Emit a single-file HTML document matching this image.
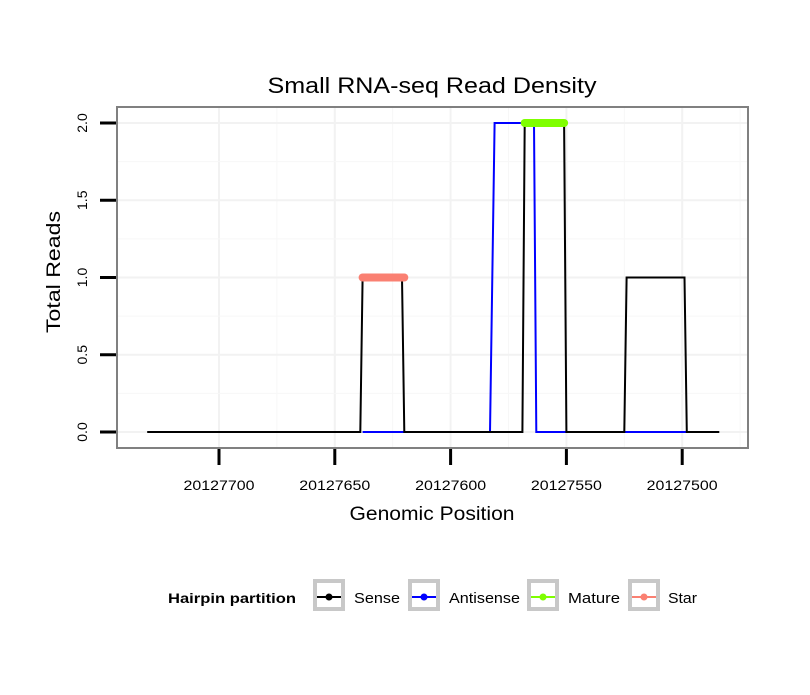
<!DOCTYPE html>
<html><head><meta charset="utf-8"><style>
body{margin:0;background:#fff;font-family:"Liberation Sans",sans-serif}
</style></head><body>
<svg width="810" height="690" xmlns="http://www.w3.org/2000/svg" font-family="Liberation Sans, sans-serif">
<rect width="810" height="690" fill="#fff"/>
<g id="grid"></g>
<g id="series"></g>
<rect x="117" y="107" width="631" height="341" fill="none" stroke="#808080" stroke-width="2"/>
<g id="axes"></g>
<text x="432" y="93" font-size="22" text-anchor="middle" textLength="329" lengthAdjust="spacingAndGlyphs">Small RNA-seq Read Density</text>
<text x="432" y="520" font-size="19" text-anchor="middle" textLength="165" lengthAdjust="spacingAndGlyphs">Genomic Position</text>
<text transform="translate(60,272) rotate(-90)" font-size="19" text-anchor="middle" textLength="122" lengthAdjust="spacingAndGlyphs">Total Reads</text>
<g id="legend">
<text x="168" y="603" font-size="14" font-weight="bold" textLength="128" lengthAdjust="spacingAndGlyphs">Hairpin partition</text>
</g>
</svg>
<script>
const xTicks=[20127700,20127650,20127600,20127550,20127500];
const yTicks=[0,0.5,1,1.5,2];
const senseX=[20127731,20127639,20127638,20127621,20127620,20127569,20127568,20127551,20127550,20127525,20127524,20127499,20127498,20127484];
const senseY=[0,0,1,1,0,0,2,2,0,0,1,1,0,0];
const antiX=[20127638,20127620,20127620,20127583,20127581,20127564,20127563,20127498];
const antiY=[0,0,0,0,2,2,0,0];
const starX=[20127638,20127620];
const starY=[1,1];
const matureX=[20127568,20127551];
const matureY=[2,2];
const legendLabels=["Sense","Antisense","Mature","Star"];
const legendColors=["#000","#0000ff","#7fff00","#fa8072"];

const NS="http://www.w3.org/2000/svg";
function px(v){return 219+(20127700-v)*2.316;}
function py(v){return 432-v*154.5;}
function mk(tag,attrs,parent){const e=document.createElementNS(NS,tag);for(const k in attrs)e.setAttribute(k,attrs[k]);parent.appendChild(e);return e;}
const grid=document.getElementById('grid'),series=document.getElementById('series'),axes=document.getElementById('axes'),legend=document.getElementById('legend');
for(let i=0;i<xTicks.length;i++){
 const g=mk('line',{x1:px(xTicks[i]),x2:px(xTicks[i]),y1:108,y2:447,stroke:'#f2f2f2','stroke-width':2},grid);
 
 
 const m=xTicks[i]-25;const mx=px(m);
 if(mx<747){const g2=mk('line',{x1:mx,x2:mx,y1:108,y2:447,stroke:'#f7f7f7','stroke-width':1},grid);
 
 }
}
for(let i=0;i<yTicks.length;i++){
 const g=mk('line',{x1:118,x2:747,y1:py(yTicks[i]),y2:py(yTicks[i]),stroke:'#f2f2f2','stroke-width':2},grid);
 
 
 if(i<yTicks.length-1){const my=py(yTicks[i]+0.25);
 const g2=mk('line',{x1:118,x2:747,y1:my,y2:my,stroke:'#f7f7f7','stroke-width':1},grid);
 
 }
}
function path(xs,ys){return xs.map((x,i)=>(i?'L':'M')+px(x).toFixed(1)+','+py(ys[i]).toFixed(1)).join(' ');}
const a=mk('path',{d:path(antiX,antiY),fill:'none',stroke:'#0000ff','stroke-width':2},series);


const s=mk('path',{d:path(senseX,senseY),fill:'none',stroke:'#000','stroke-width':2},series);


const st=mk('path',{d:path(starX,starY),fill:'none',stroke:'#fa8072','stroke-width':8,'stroke-linecap':'round'},series);


const mt=mk('path',{d:path(matureX,matureY),fill:'none',stroke:'#7fff00','stroke-width':8,'stroke-linecap':'round'},series);


for(const t of xTicks){
 const l=mk('line',{x1:px(t),x2:px(t),y1:449,y2:465,stroke:'#000','stroke-width':3},axes);
 
 
 const tx=mk('text',{x:px(t),y:490,'font-size':14,'text-anchor':'middle',textLength:71,lengthAdjust:'spacingAndGlyphs'},axes);tx.textContent=t;
 
 
}
for(const t of yTicks){
 const l=mk('line',{x1:100,x2:116,y1:py(t),y2:py(t),stroke:'#000','stroke-width':3},axes);
 
 
 const tx=mk('text',{transform:`translate(87,${py(t)}) rotate(-90)`,'font-size':14,'text-anchor':'middle'},axes);tx.textContent=t.toFixed(1);
 
 
}
const keyX=[313,408,527,628];
const textX=[354,449,568,668];
const textW=[46,71,52,29];
for(let i=0;i<legendLabels.length;i++){
 const x=keyX[i];
 const g=mk('g',{},legend);
 
 
 mk('rect',{x:x+2,y:581,width:28,height:28,fill:'#fff',stroke:'#c8c8c8','stroke-width':4},g);
 mk('line',{x1:x+4,x2:x+28,y1:597,y2:597,stroke:legendColors[i],'stroke-width':2},g);
 mk('circle',{cx:x+16,cy:597,r:3.5,fill:legendColors[i]},g);
 const t=mk('text',{x:textX[i],y:603,'font-size':15,textLength:textW[i],lengthAdjust:'spacingAndGlyphs'},g);t.textContent=legendLabels[i];
}
</script>
</body></html>
